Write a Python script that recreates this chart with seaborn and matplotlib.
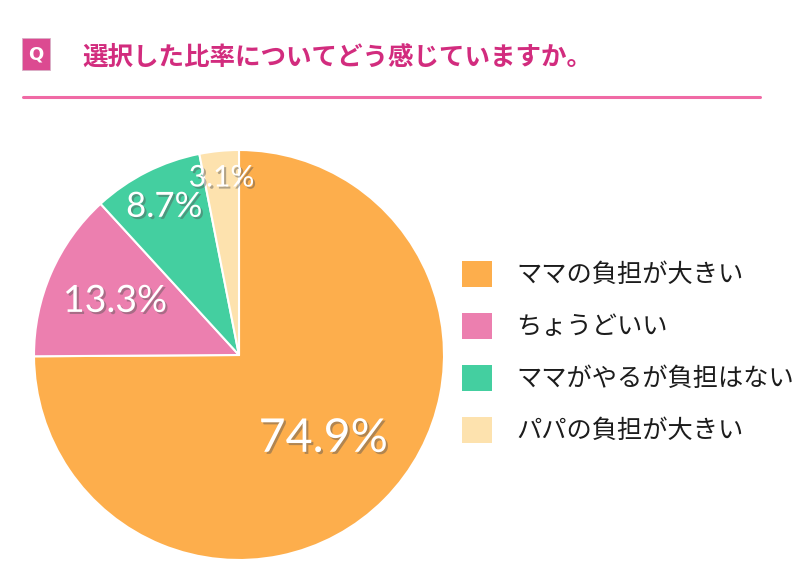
import numpy as np
import matplotlib
matplotlib.use("Agg")
import matplotlib.pyplot as plt
import matplotlib.patheffects as pe
from matplotlib.patches import FancyBboxPatch
from matplotlib.lines import Line2D
import seaborn as sns

# ---- data ----
categories = ["ママの負担が大きい", "ちょうどいい", "ママがやるが負担はない", "パパの負担が大きい"]
values = [74.9, 13.3, 8.7, 3.1]
pct_labels = ["74.9%", "13.3%", "8.7%", "3.1%"]
colors = ["#FDAE4C", "#EC7FAF", "#44CFA0", "#FDE2AE"]
title = "選択した比率についてどう感じていますか。"

sns.set_theme(style="white")
plt.rcParams['font.family'] = ['Noto Sans CJK JP', 'DejaVu Sans']

W, H = 800, 582
fig = plt.figure(figsize=(W / 100, H / 100), dpi=100)
fig.patch.set_facecolor("white")

def px(x0, y0, w, h):
    # top-left pixel box -> figure fraction
    return [x0 / W, 1 - (y0 + h) / H, w / W, h / H]

# ---- header ----
fig.patches.append(FancyBboxPatch((22 / W, 1 - 70 / H), 28 / W, 32 / H,
                                  boxstyle="square,pad=0", transform=fig.transFigure,
                                  facecolor="#DC4A91", edgecolor="#D8B0C6", linewidth=0.6))
fig.text(36 / W, 1 - 54 / H, "Q", color="white", fontsize=13, fontweight="bold",
         ha="center", va="center", family=["DejaVu Sans"])
fig.text(82 / W, 1 - 57 / H, title, color="#D22C7E", fontsize=18.4, fontweight="bold",
         ha="left", va="center")
fig.add_artist(Line2D([23 / W, 760 / W], [1 - 97 / H, 1 - 97 / H], color="#F06AA5",
                      linewidth=2.2, transform=fig.transFigure))

# ---- pie ----
ax = fig.add_axes(px(34, 150, 410, 410))
wedges, _ = ax.pie(values, colors=colors, startangle=90, counterclock=False,
                   wedgeprops=dict(edgecolor="white", linewidth=1.5))
ax.set_xlim(-1, 1)
ax.set_ylim(-1, 1)
ax.set_aspect("equal")
ax.axis("off")

dists = [0.58, 0.66, 0.81, 0.87]
sizes = [33.5, 27, 25, 21.5]
for w, lab, d, s in zip(wedges, pct_labels, dists, sizes):
    ang = np.deg2rad((w.theta1 + w.theta2) / 2)
    ax.text(d * np.cos(ang), d * np.sin(ang), lab, color="white", fontsize=s,
            ha="center", va="center", family=["Lato", "DejaVu Sans"],
            path_effects=[pe.SimplePatchShadow(offset=(1.5, -1.5), alpha=0.45, shadow_rgbFace="#555555"),
                          pe.Normal()])

# ---- legend ----
leg = fig.legend(wedges, categories, loc="upper left",
                 bbox_to_anchor=(462 / W, 1 - 261 / H), frameon=False,
                 handlelength=1.19, handleheight=1.19,
                 handletextpad=0.95, labelspacing=0.97, borderpad=0, borderaxespad=0,
                 prop=dict(size=18.2))
for t in leg.get_texts():
    t.set_color("#1c1c1c")
for h in leg.legend_handles:
    h.set_edgecolor("none")

fig.savefig("out.png", dpi=100, facecolor="white")
